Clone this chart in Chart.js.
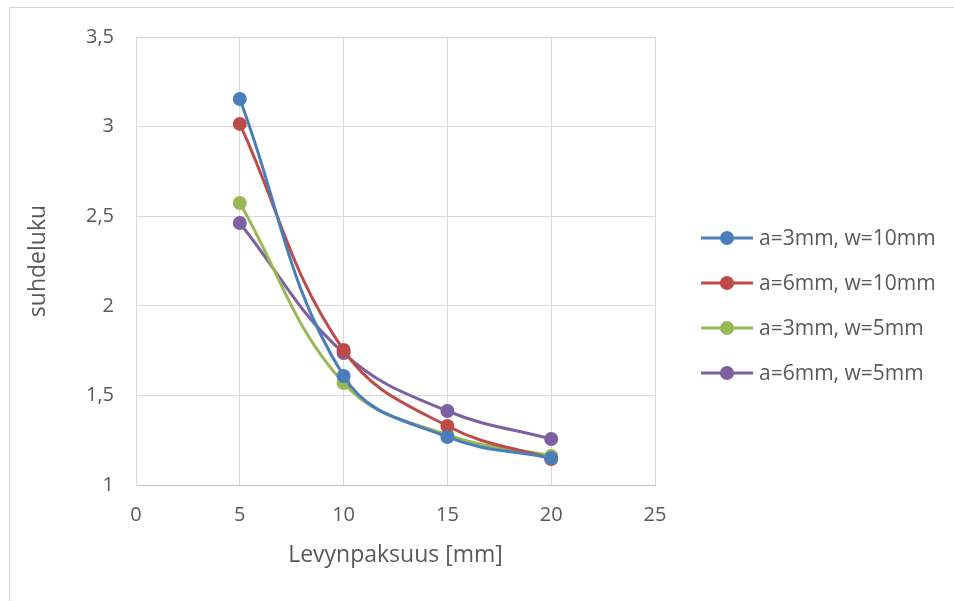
<!DOCTYPE html>
<html>
<head>
<meta charset="utf-8">
<script src="https://cdn.jsdelivr.net/npm/chart.js@4.4.1/dist/chart.umd.min.js"></script>
<style>
  html, body { margin: 0; padding: 0; background: #fff; }
  #wrap { position: relative; width: 954px; height: 601px; }
  #frame { position: absolute; left: 9px; top: 7px; width: 960px; height: 610px; border: 1px solid #d9d9d9; box-sizing: border-box; pointer-events: none; }
</style>
</head>
<body>
<div id="wrap">
  <canvas id="chart" width="954" height="601"></canvas>
  <div id="frame"></div>
</div>
<script>
// data
const thickness = [5, 10, 15, 20];
const a3w10 = [3.154, 1.608, 1.268, 1.15];
const a6w10 = [3.015, 1.753, 1.329, 1.145];
const a3w5 = [2.574, 1.569, 1.279, 1.162];
const a6w5 = [2.462, 1.736, 1.413, 1.257];
const seriesNames = ['a=3mm, w=10mm', 'a=6mm, w=10mm', 'a=3mm, w=5mm', 'a=6mm, w=5mm'];
const seriesColors = ['#4A7EBB', '#BE4B48', '#98B954', '#7D60A0'];

const fontFamily = '"Open Sans", "Noto Sans", sans-serif';
const textColor = '#595959';

function toPoints(ys) {
    return thickness.map((x, i) => ({ x: x, y: ys[i] }));
}

function makeDataset(name, ys, color) {
    return {
        label: name,
        data: toPoints(ys),
        borderColor: color,
        backgroundColor: color,
        borderWidth: 3,
        pointRadius: 7,
        pointHoverRadius: 7,
        pointBorderWidth: 0,
        tension: 0.4,
        fill: false
    };
}

// draws the legend on the right: line with a dot, then the name
const sideLegend = {
    id: 'sideLegend',
    afterDraw(chart) {
        const ctx = chart.ctx;
        ctx.save();
        ctx.font = '21px ' + fontFamily;
        ctx.textBaseline = 'middle';
        chart.data.datasets.forEach((ds, i) => {
            const y = 238 + i * 45;
            ctx.strokeStyle = ds.borderColor;
            ctx.lineWidth = 3;
            ctx.beginPath();
            ctx.moveTo(701, y);
            ctx.lineTo(753, y);
            ctx.stroke();
            ctx.fillStyle = ds.borderColor;
            ctx.beginPath();
            ctx.arc(727, y, 7, 0, Math.PI * 2);
            ctx.fill();
            ctx.fillStyle = textColor;
            ctx.fillText(ds.label, 759, y + 1);
        });
        ctx.restore();
    }
};

const ctx = document.getElementById('chart').getContext('2d');
new Chart(ctx, {
    type: 'line',
    data: {
        datasets: [
            makeDataset(seriesNames[0], a3w10, seriesColors[0]),
            makeDataset(seriesNames[1], a6w10, seriesColors[1]),
            makeDataset(seriesNames[2], a3w5, seriesColors[2]),
            makeDataset(seriesNames[3], a6w5, seriesColors[3])
        ]
    },
    options: {
        responsive: false,
        animation: false,
        layout: { padding: { top: 37, right: 299, bottom: 28, left: 21 } },
        plugins: {
            legend: { display: false },
            tooltip: { enabled: false }
        },
        scales: {
            x: {
                type: 'linear',
                min: 0,
                max: 25,
                ticks: { stepSize: 5, color: textColor, font: { size: 20, family: fontFamily }, padding: 18 },
                grid: { color: '#d9d9d9', lineWidth: 1, drawTicks: false },
                border: { color: '#bfbfbf', width: 1 },
                title: { display: true, text: 'Levynpaksuus [mm]', color: textColor, font: { size: 23, family: fontFamily }, padding: { top: 4, bottom: 4 } },
                afterFit(scale) { scale.height = 88; }
            },
            y: {
                min: 1,
                max: 3.5,
                ticks: {
                    stepSize: 0.5,
                    color: textColor,
                    font: { size: 20, family: fontFamily },
                    padding: 22,
                    callback: v => String(v).replace('.', ',')
                },
                grid: { color: '#d9d9d9', lineWidth: 1, drawTicks: false },
                border: { color: '#d9d9d9', width: 1 },
                title: { display: true, text: 'suhdeluku', color: textColor, font: { size: 23, family: fontFamily }, padding: { top: 4, bottom: 4 } },
                afterFit(scale) { scale.width = 115; }
            }
        }
    },
    plugins: [sideLegend]
});
</script>
</body>
</html>
